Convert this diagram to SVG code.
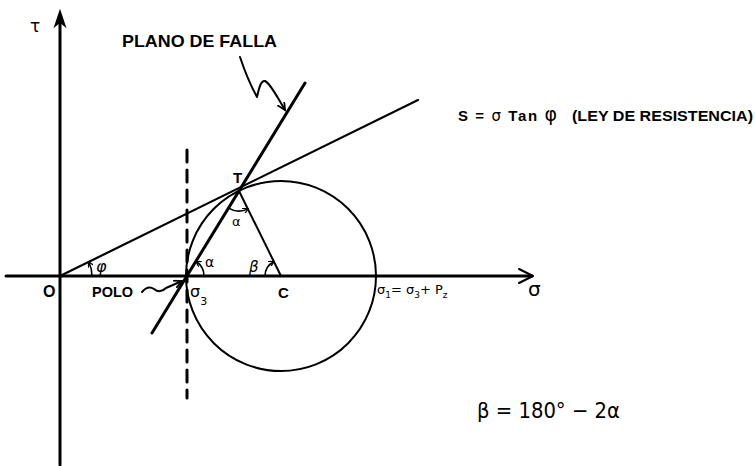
<svg xmlns="http://www.w3.org/2000/svg" width="755" height="466" viewBox="0 0 755 466">
<style>
.ln{fill:none;stroke:#000;stroke-linecap:round;stroke-linejoin:round}
.t{font-family:"Liberation Sans","DejaVu Sans",sans-serif;font-weight:bold;fill:#000}
.g{font-family:"DejaVu Sans","Liberation Sans",sans-serif;fill:#000}
</style>
<defs>
<marker id="arr" markerWidth="10" markerHeight="10" refX="8" refY="4" orient="auto" markerUnits="userSpaceOnUse">
<path d="M0,0 L8,4 L0,8" fill="none" stroke="#000" stroke-width="1.8"/>
</marker>
<marker id="sm" markerWidth="6" markerHeight="6" refX="5" refY="3" orient="auto" markerUnits="userSpaceOnUse">
<path d="M0,0 L5,3 L0,6" fill="none" stroke="#000" stroke-width="1.3"/>
</marker>
</defs>
<rect width="755" height="466" fill="#fff"/>

<g id="tau-axis">
<line class="ln" x1="60" y1="465" x2="60" y2="16" stroke-width="3"/>
<path d="M60,11 L55,26 L60,22 L65,26 Z" fill="#000" stroke="#000" stroke-width="1.5"/>
<text class="g" x="30" y="32" font-size="17">τ</text>
</g>

<g id="sigma-axis">
<line class="ln" x1="6" y1="276" x2="532" y2="276" stroke-width="3"/>
<path class="ln" d="M519,269 L533,276 L519,283" stroke-width="2"/>
<text class="g" x="528" y="296" font-size="20">σ</text>
</g>

<g id="mohr-circle">
<circle class="ln" cx="281" cy="276" r="95" stroke-width="2"/>
</g>

<g id="pole-vertical">
<line class="ln" x1="187" y1="150" x2="187" y2="398" stroke-width="3" stroke-dasharray="12 8" stroke-linecap="butt"/>
</g>

<g id="resistance-line">
<line class="ln" x1="60" y1="276" x2="418" y2="100" stroke-width="2.2"/>
</g>

<g id="failure-plane">
<line class="ln" x1="152" y1="333" x2="305" y2="83" stroke-width="3"/>
</g>

<g id="radius-CT">
<line class="ln" x1="239" y1="191" x2="281" y2="276" stroke-width="2"/>
</g>

<g id="connectors">
<path class="ln" d="M240,57 C246,75 252,88 257,97 C259,88 261,80 265,81 C271,84 277,97 285,110" stroke-width="2" marker-end="url(#arr)"/>
<path class="ln" d="M142,292 Q148,285 154,289 Q160,294 166,288 L182,281" stroke-width="2" marker-end="url(#arr)"/>
</g>

<g id="angles">
<path class="ln" d="M92,276 A32,32 0 0 0 88.8,262" stroke-width="1.6" marker-end="url(#sm)"/>
<path class="ln" d="M204,276 A17,17 0 0 0 196,261.5" stroke-width="1.6" marker-end="url(#sm)"/>
<path class="ln" d="M265,276 A16,16 0 0 1 273.9,261.7" stroke-width="1.6" marker-end="url(#sm)"/>
<path class="ln" d="M228.6,208.1 A20,20 0 0 0 247.9,208.9" stroke-width="1.6" marker-end="url(#sm)"/>
<text class="g" x="96" y="272" font-size="16" font-style="italic">φ</text>
<text class="g" x="205" y="267" font-size="14">α</text>
<text class="g" x="232" y="226" font-size="13">α</text>
<text class="g" x="249" y="272" font-size="15" font-style="italic">β</text>
</g>

<g id="labels">
<text class="t" x="122" y="47" font-size="17" textLength="155" lengthAdjust="spacingAndGlyphs">PLANO DE FALLA</text>
<text class="t" x="458" y="121" font-size="15" textLength="99" lengthAdjust="spacing">S = <tspan class="g" font-weight="normal">σ</tspan> Tan <tspan class="g" font-weight="normal" font-size="19">φ</tspan></text>
<text class="t" x="572" y="121" font-size="15" textLength="181" lengthAdjust="spacingAndGlyphs">(LEY DE RESISTENCIA)</text>
<text class="t" x="233" y="183" font-size="15">T</text>
<text class="t" x="43" y="297" font-size="16">O</text>
<text class="t" x="92" y="297" font-size="15" textLength="41" lengthAdjust="spacingAndGlyphs">POLO</text>
<text class="g" x="190" y="297" font-size="16">σ<tspan font-size="11" dy="8">3</tspan></text>
<text class="t" x="278" y="298" font-size="15">C</text>
<text class="g" x="377" y="294" font-size="13">σ<tspan font-size="9" dy="4">1</tspan><tspan dy="-4">= σ</tspan><tspan font-size="9" dy="4">3</tspan><tspan dy="-4">+ P</tspan><tspan font-size="9" dy="4">z</tspan></text>
<text class="g" x="477" y="418" font-size="22" textLength="143" lengthAdjust="spacingAndGlyphs">β = 180° − 2α</text>
</g>
</svg>
